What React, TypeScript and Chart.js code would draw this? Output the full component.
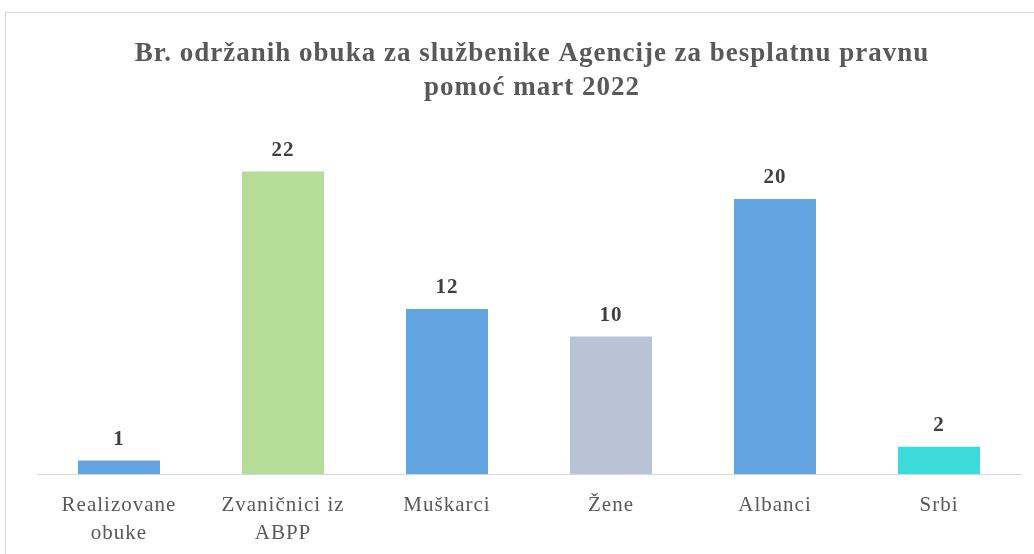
import React, { useEffect, useRef } from "react";
import { Chart, registerables } from "chart.js";

Chart.register(...registerables);

const titleLines = ["Br. održanih obuka za službenike Agencije za besplatnu pravnu", "pomoć mart 2022"];
const categories: string[][] = [["Realizovane", "obuke"], ["Zvaničnici iz", "ABPP"], ["Muškarci"], ["Žene"], ["Albanci"], ["Srbi"]];
const values = [1, 22, 12, 10, 20, 2];
const barColors = ["#63A5E0", "#B5DD98", "#63A5E0", "#B8C4D6", "#63A5E0", "#3CDAD9"];

const SERIF = "'Liberation Serif', 'Times New Roman', serif";

const overlayPlugin = {
  id: "overlay",
  beforeDraw(chart: any) {
    (chart.ctx as any).letterSpacing = "1px";
  },
  afterDraw(chart: any) {
    const ctx = chart.ctx;
    ctx.save();
    ctx.fillStyle = "#595959";
    ctx.font = `bold 27px ${SERIF}`;
    ctx.letterSpacing = "1px";
    ctx.textAlign = "center";
    ctx.textBaseline = "middle";
    titleLines.forEach((t, i) => ctx.fillText(t, 532, 54 + i * 34));
    const meta = chart.getDatasetMeta(0);
    ctx.fillStyle = "#404040";
    ctx.font = `bold 21px ${SERIF}`;
    meta.data.forEach((el: any, i: number) => {
      ctx.fillText(String(values[i]), el.x, el.y - 21);
    });
    ctx.restore();
    ctx.letterSpacing = "0px";
  },
};

export default function App() {
  const ref = useRef<HTMLCanvasElement>(null);
  useEffect(() => {
    const chart = new Chart(ref.current!, {
      type: "bar",
      data: {
        labels: categories as any,
        datasets: [
          {
            data: values,
            backgroundColor: barColors,
            borderWidth: 0,
            barPercentage: 0.5,
            categoryPercentage: 1,
          },
        ],
      },
      options: {
        animation: false,
        responsive: false,
        maintainAspectRatio: false,
        layout: { padding: { left: 37, right: 13, top: 144, bottom: 2 } },
        plugins: { legend: { display: false }, title: { display: false }, tooltip: { enabled: false } },
        scales: {
          x: {
            offset: true,
            grid: { display: false },
            border: { color: "#D9D9D9", width: 1 },
            ticks: {
              color: "#595959",
              padding: 9,
              maxRotation: 0,
              autoSkip: false,
              font: { family: SERIF, size: 21, lineHeight: 1.33 },
            },
          },
          y: { display: false, min: 0, max: 24 },
        },
      },
      plugins: [overlayPlugin],
    });
    return () => chart.destroy();
  }, []);
  return (
    <div style={{ position: "fixed", left: 0, top: 0, width: 1034, height: 554, overflow: "hidden", background: "#fff" }}>
      <div style={{ position: "absolute", left: 5, top: 12, width: 1100, height: 700, border: "1px solid #D9D9D9" }} />
      <canvas ref={ref} width={1034} height={558} style={{ position: "absolute", left: 0, top: 0 }} />
    </div>
  );
}
